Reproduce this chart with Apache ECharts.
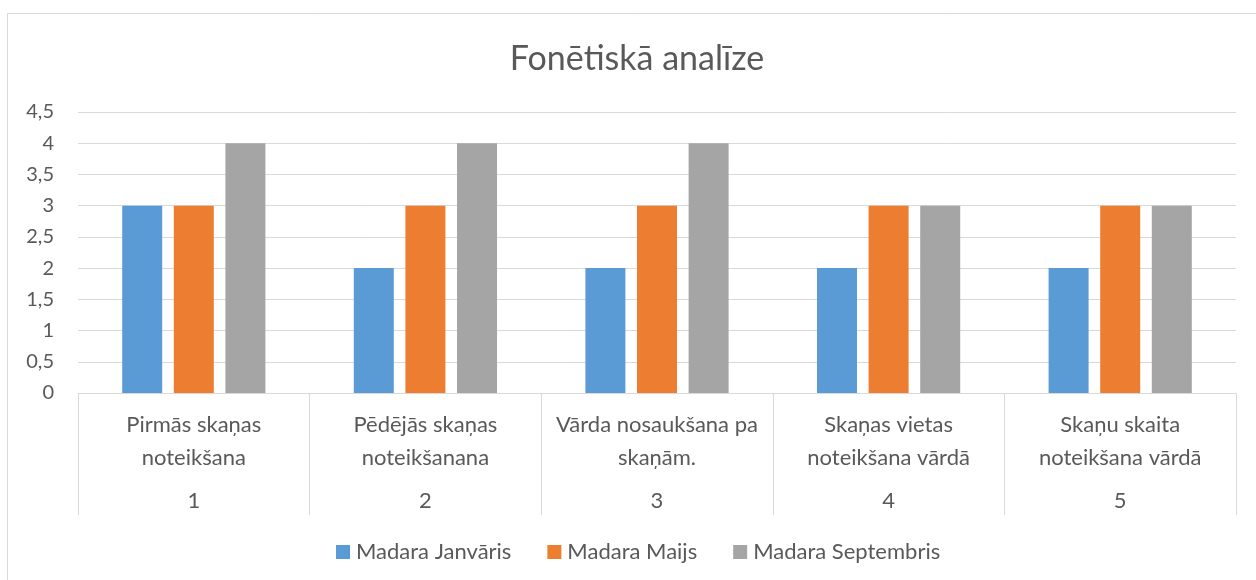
<!DOCTYPE html>
<html>
<head>
<meta charset="utf-8">
<script src="https://cdn.jsdelivr.net/npm/echarts@6/dist/echarts.min.js"></script>
<style>html,body{margin:0;padding:0;background:#fff}#c{width:1256px;height:580px}</style>
</head>
<body>
<div id="c"></div>
<script>
const categories = ['Pirmās skaņas\nnoteikšana', 'Pēdējās skaņas\nnoteikšanana', 'Vārda nosaukšana pa\nskaņām.', 'Skaņas vietas\nnoteikšana vārdā', 'Skaņu skaita\nnoteikšana vārdā'];
const categoryNumbers = ['1', '2', '3', '4', '5'];
const seriesNames = ['Madara Janvāris', 'Madara Maijs', 'Madara Septembris'];
const janvaris = [3, 2, 2, 2, 2];
const maijs = [3, 3, 3, 3, 3];
const septembris = [4, 4, 4, 3, 3];
const yTicks = { min: 0, max: 4.5, interval: 0.5 };

const FONT = 'Lato';
const TXT = '#595959';
const LINE = '#d9d9d9';
const chart = echarts.init(document.getElementById('c'), null, { renderer: 'canvas' });
chart.setOption({
  animation: false,
  backgroundColor: '#fff',
  color: ['#5b9bd5', '#ed7d31', '#a5a5a5'],
  textStyle: { fontFamily: FONT },
  graphic: [{
    type: 'rect', silent: true,
    shape: { x: 7.5, y: 13.5, width: 1400, height: 800 },
    style: { fill: 'none', stroke: LINE, lineWidth: 1 }
  }],
  title: {
    text: 'Fonētiskā analīze',
    left: 632, top: 37, textAlign: 'center',
    textStyle: { fontFamily: FONT, fontSize: 34, fontWeight: 'normal', color: TXT }
  },
  legend: {
    top: 536, left: 331,
    icon: 'rect', itemWidth: 14, itemHeight: 14, itemGap: 36,
    textStyle: { fontFamily: FONT, fontSize: 22, color: TXT, padding: [0, 0, 0, 1] },
    data: seriesNames
  },
  grid: { left: 78, right: 20, top: 112, bottom: 187, containLabel: false },
  xAxis: [{
    type: 'category', data: categories, position: 'bottom',
    axisLine: { show: true, lineStyle: { color: LINE, width: 1 } },
    axisTick: { show: true, length: 122, lineStyle: { color: LINE } },
    axisLabel: { fontFamily: FONT, fontSize: 22, color: TXT, lineHeight: 33, margin: 15, interval: 0 }
  }, {
    type: 'category', data: categoryNumbers, position: 'bottom',
    axisLine: { show: false }, axisTick: { show: false },
    axisLabel: { fontFamily: FONT, fontSize: 22, color: TXT, margin: 97, interval: 0 }
  }],
  yAxis: {
    type: 'value', min: yTicks.min, max: yTicks.max, interval: yTicks.interval,
    axisLine: { show: false }, axisTick: { show: false },
    splitLine: { lineStyle: { color: LINE, width: 1 } },
    axisLabel: { fontFamily: FONT, fontSize: 20, color: TXT, margin: 24,
      formatter: v => String(v).replace('.', ',') }
  },
  series: [
    { name: seriesNames[0], type: 'bar', data: janvaris, barWidth: 40, barGap: '29%' },
    { name: seriesNames[1], type: 'bar', data: maijs, barWidth: 40, barGap: '29%' },
    { name: seriesNames[2], type: 'bar', data: septembris, barWidth: 40, barGap: '29%' }
  ]
});
</script>
</body>
</html>
